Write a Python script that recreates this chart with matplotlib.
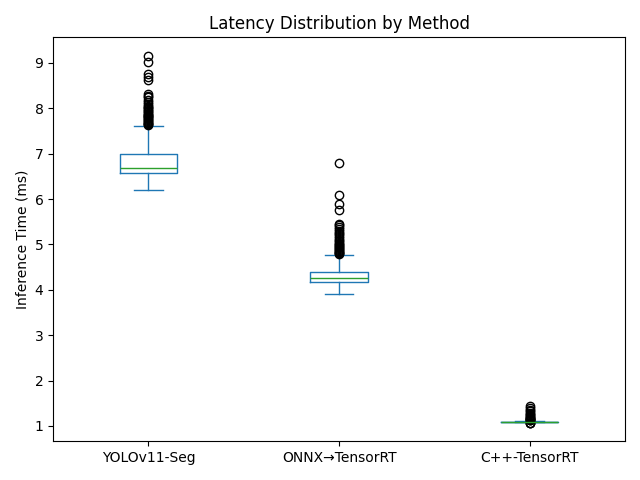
import matplotlib
matplotlib.use("Agg")
from matplotlib import pyplot as plt

methods = ["YOLOv11-Seg", "ONNX→TensorRT", "C++-TensorRT"]

# box statistics (ms)
medians = [6.69, 4.26, 1.090]
q1s = [6.58, 4.17, 1.085]
q3s = [7.00, 4.40, 1.095]
whis_lo = [6.20, 3.91, 1.075]
whis_hi = [7.62, 4.77, 1.110]

yolo_fliers = [9.16, 9.03, 8.76, 8.70, 8.63, 8.32, 8.28, 8.24, 8.19, 8.14, 8.10,
               8.06, 8.03, 8.00, 7.98, 7.95, 7.93, 7.90, 7.88, 7.86, 7.84, 7.82,
               7.80, 7.78, 7.76, 7.74, 7.72, 7.70, 7.68, 7.66, 7.65, 7.64]
onnx_fliers = [6.80, 6.08, 5.88, 5.76, 5.45, 5.42, 5.38, 5.34, 5.30, 5.26, 5.22,
               5.18, 5.14, 5.10, 5.07, 5.04, 5.01, 4.98, 4.96, 4.94, 4.92, 4.90,
               4.88, 4.86, 4.84, 4.82, 4.80, 4.79]
cpp_fliers = [1.065, 1.068, 1.070, 1.43, 1.40, 1.36, 1.32, 1.29, 1.26, 1.24,
              1.22, 1.20, 1.18, 1.17, 1.16, 1.15, 1.14, 1.13, 1.12]
fliers = [yolo_fliers, onnx_fliers, cpp_fliers]

stats = []
for i, name in enumerate(methods):
    stats.append({
        "label": name,
        "med": medians[i],
        "q1": q1s[i],
        "q3": q3s[i],
        "whislo": whis_lo[i],
        "whishi": whis_hi[i],
        "fliers": fliers[i],
    })

fig, ax = plt.subplots(figsize=(6.4, 4.8), dpi=100)
ax.bxp(
    stats,
    boxprops={"color": "C0"},
    whiskerprops={"color": "C0"},
    capprops={"color": "C0"},
    medianprops={"color": "C2"},
    flierprops={"marker": "o", "markeredgecolor": "black", "markerfacecolor": "none"},
)
ax.set_title("Latency Distribution by Method")
ax.set_ylabel("Inference Time (ms)")
fig.tight_layout()
fig.savefig("out.png")
